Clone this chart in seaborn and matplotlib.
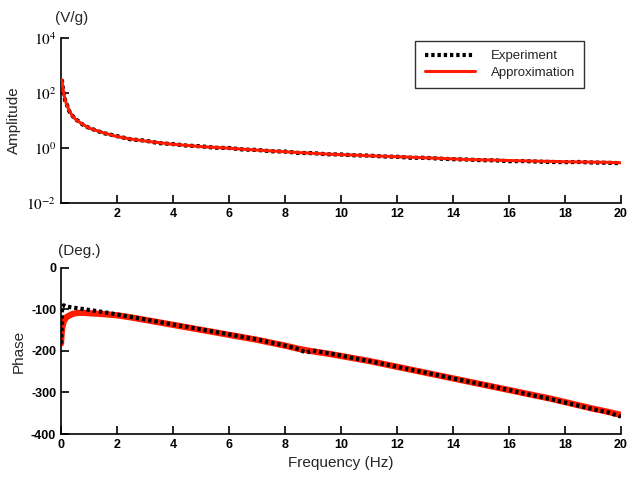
import numpy as np
import pandas as pd
import matplotlib
matplotlib.use('Agg')
import matplotlib.pyplot as plt
import seaborn as sns

# frequency grid (Hz)
freq = [0.03, 0.05, 0.1, 0.15, 0.2, 0.3, 0.4, 0.5, 0.6, 0.8, 1.0, 1.5, 2.0, 2.5, 3.0, 3.5,
        4.0, 4.5, 5.0, 5.5, 6.0, 6.5, 7.0, 7.5, 8.0, 8.5, 9.0, 9.5, 10.0, 10.5, 11.0, 11.5,
        12.0, 12.5, 13.0, 13.5, 14.0, 14.5, 15.0, 15.5, 16.0, 16.5, 17.0, 17.5, 18.0, 18.5,
        19.0, 19.5, 20.0]

amp_exp = [310, 190, 95, 52, 40, 21, 15.5, 11, 9.8, 6.8, 5.4, 3.5, 2.7, 2.05, 1.85, 1.5,
           1.38, 1.22, 1.15, 1.02, 1.0, 0.88, 0.85, 0.76, 0.74, 0.66, 0.65, 0.59, 0.58, 0.54,
           0.53, 0.49, 0.48, 0.44, 0.44, 0.41, 0.39, 0.38, 0.36, 0.355, 0.33, 0.335, 0.32,
           0.31, 0.305, 0.31, 0.295, 0.29, 0.28]
amp_fit = [300, 195, 92, 55, 39, 22, 15, 11.5, 9.5, 7.0, 5.3, 3.6, 2.6, 2.1, 1.8, 1.55,
           1.36, 1.24, 1.12, 1.05, 0.98, 0.9, 0.84, 0.78, 0.73, 0.68, 0.64, 0.6, 0.57, 0.55,
           0.52, 0.5, 0.48, 0.46, 0.44, 0.42, 0.4, 0.38, 0.37, 0.36, 0.35, 0.34, 0.33,
           0.325, 0.315, 0.31, 0.305, 0.3, 0.29]

freq_ph = [0.0, 0.02, 0.04, 0.1, 0.2, 0.4, 0.6, 0.8, 1.0, 1.5, 2.0, 2.5, 3.0, 3.5, 4.0, 4.5,
           5.0, 5.5, 6.0, 6.5, 7.0, 7.5, 8.0, 8.5, 8.75, 9.0, 9.5, 10.0, 10.5, 11.0, 11.5,
           12.0, 12.5, 13.0, 13.5, 14.0, 14.5, 15.0, 15.5, 16.0, 16.5, 17.0, 17.5, 18.0,
           18.5, 19.0, 19.5, 20.0]
ph_exp = [-182, -150, -92, -90, -93, -95, -97, -99, -101, -106, -112, -118, -124, -130,
          -136, -142, -148, -154, -160, -166, -172, -180, -187, -196, -204, -199, -205,
          -211, -218, -224, -231, -238, -245, -252, -259, -266, -273, -280, -287, -294,
          -302, -309, -316, -324, -332, -340, -347, -358]
ph_fit = [-182, -160, -145, -128, -118, -111, -108, -108, -109, -111, -114, -119, -125,
          -131, -137, -143, -149, -155, -161, -167, -173, -180, -187, -195, -198, -201,
          -206, -212, -218, -224, -231, -238, -245, -252, -259, -266, -273, -280, -287,
          -294, -301, -308, -315, -323, -331, -339, -346, -354]

amp_df = pd.DataFrame({'f': freq, 'exp': amp_exp, 'fit': amp_fit})
ph_df = pd.DataFrame({'f': freq_ph, 'exp': ph_exp, 'fit': ph_fit})

sns.set_theme(style='ticks')
plt.rcParams['font.family'] = ['Liberation Sans', 'DejaVu Sans']
plt.rcParams['axes.unicode_minus'] = False
plt.rcParams['mathtext.fontset'] = 'stix'

red = '#ff1a00'
dots = (0, (0.8, 0.7))

fig = plt.figure(figsize=(6.27, 4.84), dpi=100)
ax1 = fig.add_axes([0.0973, 0.5806, 0.893, 0.341])
ax2 = fig.add_axes([0.0973, 0.1033, 0.893, 0.343])

# amplitude
sns.lineplot(data=amp_df, x='f', y='exp', ax=ax1, color='black', lw=3, linestyle=dots,
             label='Experiment', estimator=None, sort=False, zorder=2)
sns.lineplot(data=amp_df, x='f', y='fit', ax=ax1, color=red, lw=2.2, label='Approximation',
             estimator=None, sort=False, zorder=3)
ax1.set_yscale('log')
ax1.set_ylim(1e-2, 1e4)
ax1.set_xlim(0, 20)
ax1.set_yticks([1e-2, 1e0, 1e2, 1e4])
ax1.set_yticklabels(['$10^{-2}$', '$10^{0}$', '$10^{2}$', '$10^{4}$'], fontsize=11)
ax1.yaxis.set_minor_locator(matplotlib.ticker.NullLocator())
ax1.set_xticks([2, 4, 6, 8, 10, 12, 14, 16, 18, 20])
ax1.set_xlabel('')
ax1.set_ylabel('Amplitude', fontsize=11)
ax1.text(-0.01, 1.08, '(V/g)', transform=ax1.transAxes, fontsize=11, ha='left', va='bottom')
leg = ax1.legend(loc='upper right', bbox_to_anchor=(0.934, 0.982), borderaxespad=0,
                 frameon=True, fancybox=False, edgecolor='black', fontsize=9.5,
                 handlelength=3.8, borderpad=0.7, labelspacing=0.3, handletextpad=1.2)
leg.get_frame().set_linewidth(1)

# phase
sns.lineplot(data=ph_df, x='f', y='fit', ax=ax2, color=red, lw=4.5, estimator=None,
             sort=False, zorder=2)
sns.lineplot(data=ph_df, x='f', y='exp', ax=ax2, color='black', lw=3, linestyle=dots,
             estimator=None, sort=False, zorder=3)
ax2.set_xlim(0, 20)
ax2.set_ylim(-400, 0)
ax2.set_xticks(range(0, 21, 2))
ax2.set_yticks([0, -100, -200, -300, -400])
ax2.set_xlabel('Frequency (Hz)', fontsize=11)
ax2.set_ylabel('Phase', fontsize=11)
ax2.text(-0.005, 1.06, '(Deg.)', transform=ax2.transAxes, fontsize=11, ha='left', va='bottom')

for ax in (ax1, ax2):
    sns.despine(ax=ax)
    for sp in ('left', 'bottom'):
        ax.spines[sp].set_linewidth(1.2)
        ax.spines[sp].set_color('black')
    ax.tick_params(direction='in', length=6, width=1.2, colors='black', labelsize=9)
    for lab in ax.get_xticklabels():
        lab.set_fontweight('bold')
for lab in ax2.get_yticklabels():
    lab.set_fontweight('bold')
ax1.tick_params(axis='y', labelsize=11)

fig.savefig('out.png', dpi=100)
